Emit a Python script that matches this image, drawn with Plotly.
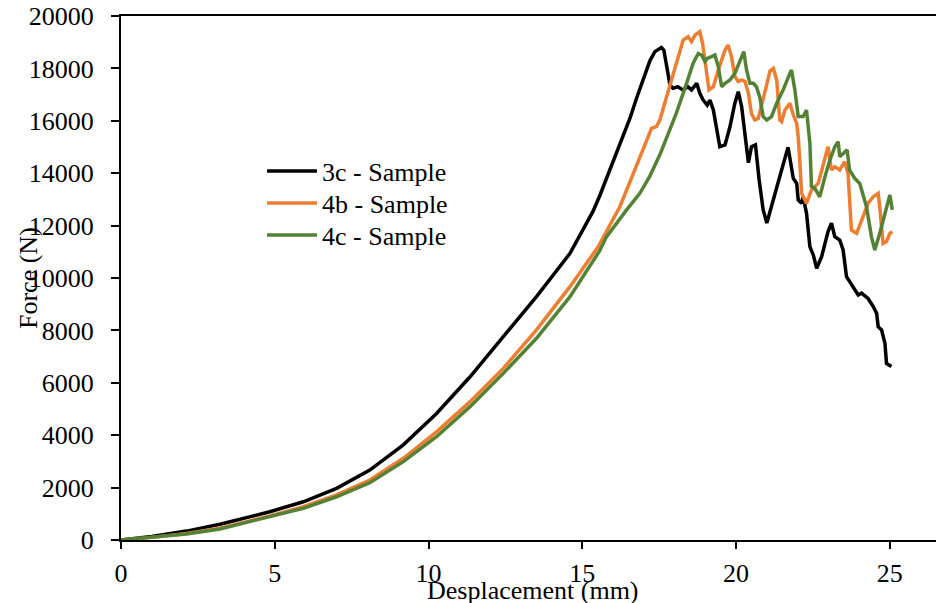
import plotly.graph_objects as go

# ---- data ----
x_3c = [0, 1.0, 2.13, 3.22, 4.84, 5.93, 7.01, 8.09, 9.18, 10.26,
        11.35, 12.43, 13.51, 14.6, 15.0, 15.35, 15.57, 15.85, 16.11, 16.33,
        16.55, 16.76, 16.98, 17.2, 17.36, 17.57, 17.65, 17.85,
        17.95, 18.1, 18.27, 18.43,
        18.55, 18.72, 18.82, 18.93, 19.06, 19.15, 19.26, 19.36, 19.47, 19.64,
        19.8, 19.96, 20.07, 20.18, 20.29, 20.4, 20.5, 20.63, 20.75, 20.88,
        21.0, 21.2, 21.45, 21.69, 21.8, 21.86, 21.97, 22.02, 22.13, 22.18,
        22.29, 22.4, 22.51, 22.62, 22.78, 22.99, 23.1, 23.21, 23.37, 23.48,
        23.59, 23.81, 23.97, 24.08, 24.29, 24.46, 24.57, 24.62, 24.73, 24.84,
        24.89, 25.05]
f_3c = [0, 130, 340, 600, 1080, 1460, 1970, 2670, 3630, 4830,
        6230, 7760, 9290, 10940, 11800, 12550, 13150, 14000, 14800, 15450,
        16100, 16850, 17600, 18300, 18640, 18800, 18700, 17370,
        17240, 17300, 17180, 17300,
        17180, 17430, 17050, 16790, 16600, 16790, 16410, 15650, 15010, 15080,
        15770, 16670, 17110, 16540, 15390, 14400, 15010, 15080, 13740, 12600,
        12100, 12980, 14000, 14990, 14120, 13800, 13610, 12980, 12850, 13100,
        12470, 11190, 10880, 10370, 10810, 11770, 12090, 11580, 11450, 11070,
        10050, 9670, 9350, 9420, 9220, 8910, 8650, 8140, 8020, 7510,
        6740, 6620]

x_4b = [0, 1.0, 2.13, 3.22, 4.84, 5.93, 7.01, 8.09, 9.18, 10.26,
        11.35, 12.43, 13.51, 14.6, 15.52, 16.22, 16.66, 16.98, 17.25,
        17.41, 17.52, 17.74, 18.06, 18.28, 18.44, 18.55, 18.66, 18.82, 18.91,
        19.04, 19.12, 19.26, 19.42, 19.64, 19.74, 19.85, 19.96, 20.07, 20.18,
        20.29, 20.4, 20.5, 20.61, 20.72, 20.88, 21.0, 21.1, 21.21, 21.32,
        21.42, 21.48, 21.59, 21.75, 21.86, 21.97, 22.02, 22.07, 22.13, 22.29,
        22.45, 22.67, 22.83, 22.99, 23.1, 23.21, 23.37, 23.53, 23.64, 23.75,
        23.92, 24.08, 24.29, 24.46, 24.62, 24.67, 24.78, 24.89, 25.0, 25.08]
f_4b = [0, 100, 250, 450, 916, 1270, 1720, 2290, 3120, 4130,
        5280, 6550, 8020, 9670, 11200, 12720, 13990, 14890, 15710,
        15780, 16030, 16920, 18190, 19080, 19210, 19020, 19270, 19400, 18960,
        17940, 17180, 17300, 17940, 18700, 18890, 18450, 17690, 17500, 17560,
        17500, 17050, 16280, 16030, 16090, 16920, 17400, 17900, 18000, 17560,
        16030, 15970, 16410, 16670, 16220, 15900, 15390, 14500, 13230, 12850,
        13360, 13610, 14380, 15010, 14120, 14250, 14120, 14440, 13990, 11830,
        11700, 12210, 12850, 13100, 13230, 12720, 11320, 11390, 11700, 11770]

x_4c = [0, 1.0, 2.13, 3.22, 4.84, 5.93, 7.01, 8.09, 9.18, 10.26,
        11.35, 12.43, 13.51, 14.6, 15.57, 15.79, 16.44, 16.87, 17.2, 17.52,
        17.74, 18.06, 18.39, 18.6, 18.77, 18.88, 18.99, 19.06, 19.2, 19.31,
        19.42, 19.53, 19.64, 19.8, 19.96, 20.12, 20.25, 20.34, 20.45, 20.56,
        20.66, 20.77, 20.88, 21.0, 21.15, 21.32, 21.53, 21.75, 21.8, 21.91,
        22.02, 22.18, 22.29, 22.4, 22.45, 22.56, 22.72, 22.89, 23.05, 23.21,
        23.32, 23.37, 23.48, 23.61, 23.69, 23.86, 24.02, 24.24, 24.4, 24.51,
        24.67, 24.84, 25.0, 25.08]
f_4c = [0, 95, 230, 420, 890, 1210, 1650, 2190, 2990, 3940,
        5090, 6360, 7700, 9290, 11050, 11580, 12600, 13230, 13900, 14700,
        15350, 16300, 17430, 18190, 18570, 18510, 18260, 18380, 18450, 18510,
        18070, 17300, 17430, 17560, 17810, 18320, 18640, 17940, 17430, 17430,
        17300, 16900, 16160, 16030, 16160, 16670, 17180, 17810, 17940, 17180,
        16160, 16160, 16410, 15140, 13490, 13420, 13100, 13870, 14500, 15010,
        15200, 14630, 14760, 14890, 14120, 13800, 13610, 12720, 11580, 11070,
        11700, 12470, 13170, 12600]

series_names = ["3c - Sample", "4b - Sample", "4c - Sample"]
series_colors = ["#000000", "#ED7D31", "#548235"]

x_ticks = [0, 5, 10, 15, 20, 25]
y_ticks = [0, 2000, 4000, 6000, 8000, 10000, 12000, 14000, 16000, 18000, 20000]
y_tick_text = ["0", "2000", "4000", "6000", "8000", "10000", "12000",
               "14000", "16000", "18000", "20000"]

FONT = "Liberation Serif"

# page body adds an 8px offset; figure coords = screen coords - 8
L, T, PW, PH = 113, 8, 823, 524

fig = go.Figure()
legend_ids = ["legend", "legend2", "legend3"]
for xs, ys, name, col, lg in zip([x_3c, x_4b, x_4c], [f_3c, f_4b, f_4c],
                                 series_names, series_colors, legend_ids):
    fig.add_trace(go.Scatter(x=xs, y=ys, mode="lines", name=name, legend=lg,
                             line=dict(color=col, width=3.5)))

legend_rows_px = [163, 195, 227]
legend_common = dict(xanchor="left", yanchor="middle", bgcolor="rgba(0,0,0,0)",
                     font=dict(family=FONT, size=26, color="black"),
                     itemwidth=50)
legend_layout = {}
for lg, ypx in zip(legend_ids, legend_rows_px):
    legend_layout[lg] = dict(legend_common, x=(254 - L) / PW,
                             y=(T + PH - ypx) / PH)

fig.update_layout(
    width=944, height=603,
    margin=dict(l=L, r=944 - L - PW, t=T, b=603 - T - PH),
    paper_bgcolor="white", plot_bgcolor="white",
    font=dict(family=FONT, size=26, color="black"),
    showlegend=True,
    xaxis=dict(range=[0, 26.76], tickvals=x_ticks, showgrid=False, zeroline=False,
               showline=True, linecolor="black", linewidth=2, mirror=True,
               ticks="outside", ticklen=7, tickwidth=2, tickcolor="black",
               ticklabelstandoff=2, automargin=False, ticklabeloverflow="allow",
               tickfont=dict(family=FONT, size=26, color="black")),
    yaxis=dict(range=[0, 20000], tickvals=y_ticks, ticktext=y_tick_text,
               showgrid=False, zeroline=False,
               showline=True, linecolor="black", linewidth=2,
               ticks="outside", ticklen=8, tickwidth=2, tickcolor="black",
               ticklabelstandoff=12, automargin=False, ticklabeloverflow="allow",
               tickfont=dict(family=FONT, size=26, color="black")),
    **legend_layout,
)

# axis titles
fig.add_annotation(text="Desplacement (mm)", xref="paper", yref="paper",
                   x=0.5, y=0, xanchor="center", yanchor="middle", yshift=-50,
                   showarrow=False, font=dict(family=FONT, size=26, color="black"))
fig.add_annotation(text="Force (N)", xref="paper", yref="paper", textangle=-90,
                   x=0, y=0.5, xanchor="center", yanchor="middle", xshift=-93,
                   showarrow=False, font=dict(family=FONT, size=26, color="black"))

fig.write_html("out.html")
